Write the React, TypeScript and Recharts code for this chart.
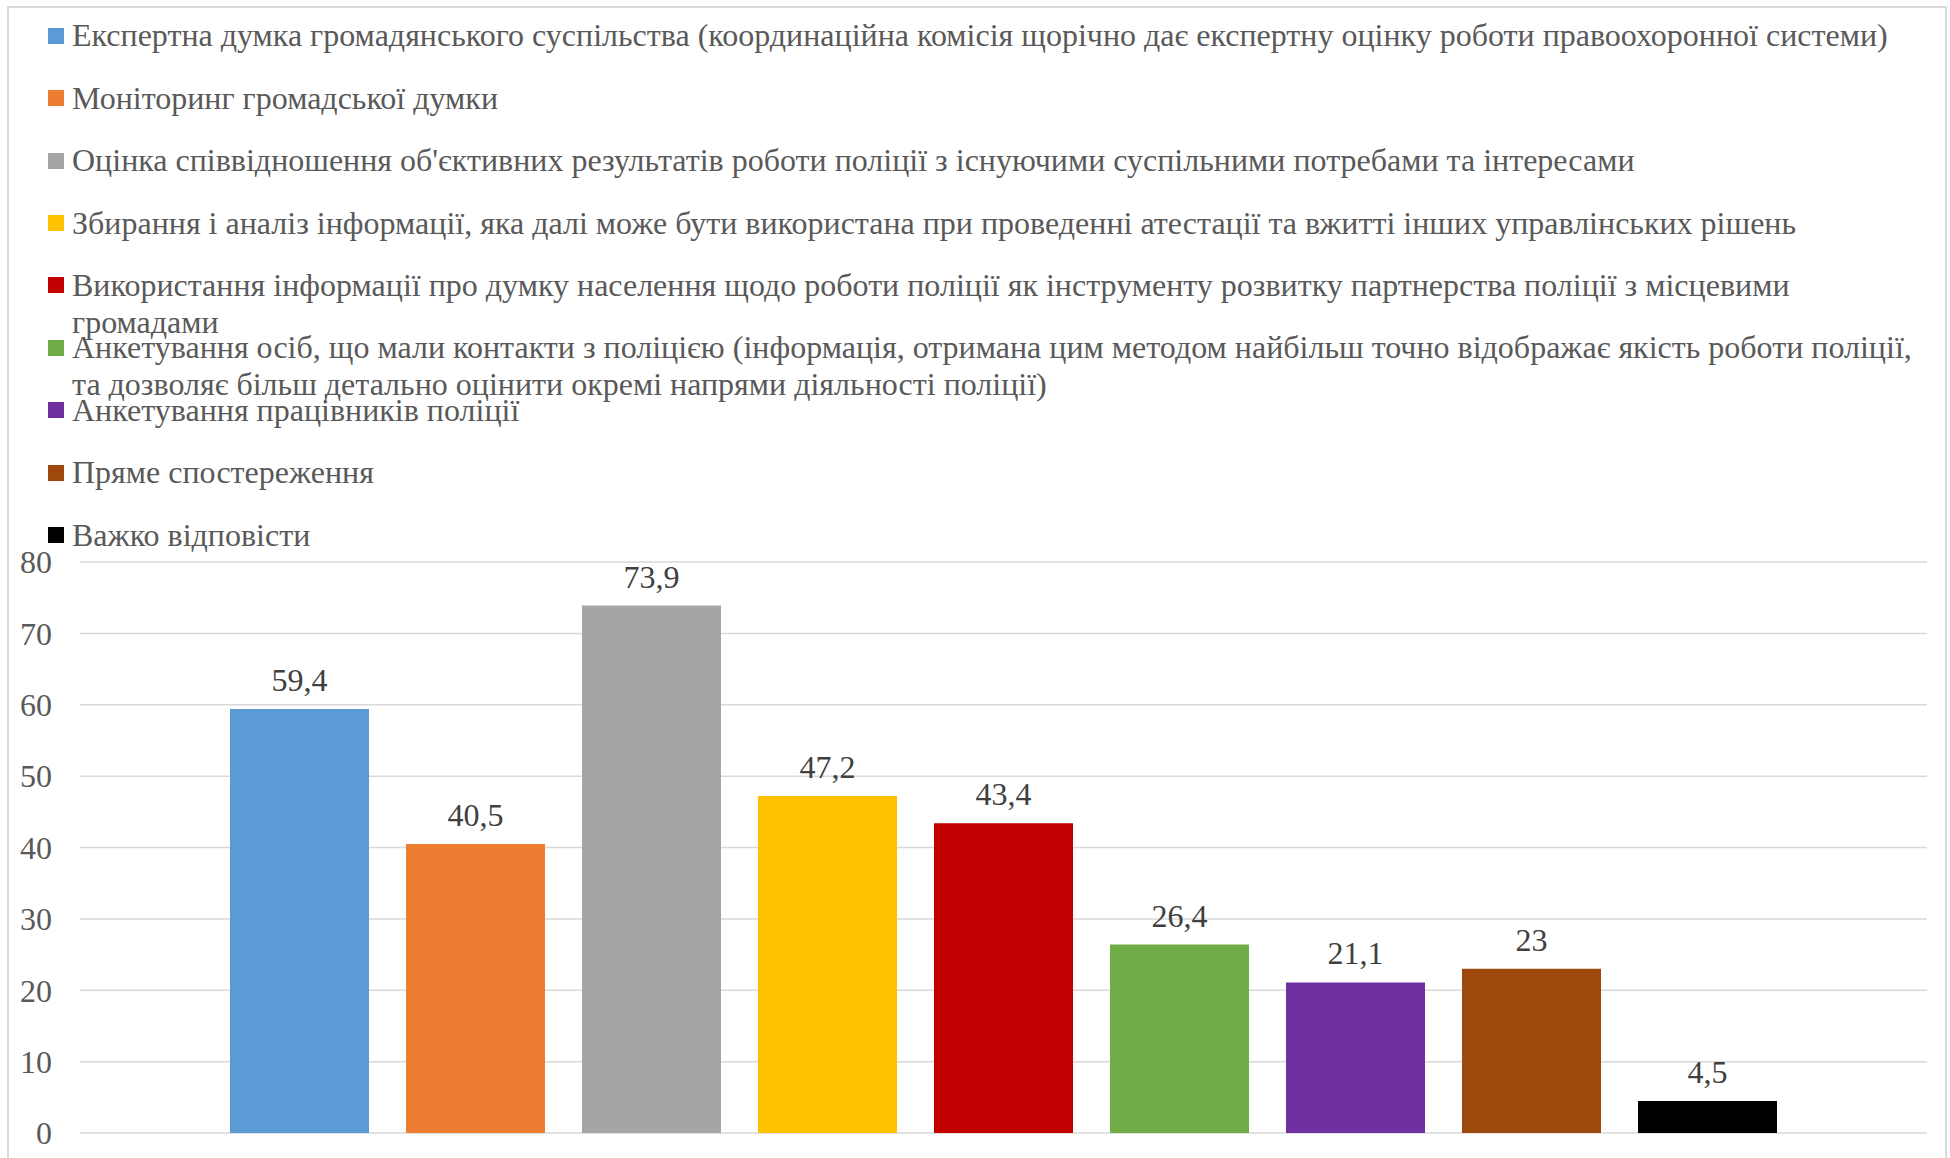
import React from 'react';
import { BarChart, Bar, XAxis, YAxis, CartesianGrid, Legend, LabelList } from 'recharts';

const categories = ['Методи оцінки'];

const seriesNames = [
  'Експертна думка громадянського суспільства (координаційна комісія щорічно дає експертну оцінку роботи правоохоронної системи)',
  'Моніторинг громадської думки',
  "Оцінка співвідношення об'єктивних результатів роботи поліції з існуючими суспільними потребами та інтересами",
  'Збирання і аналіз інформації, яка далі може бути використана при проведенні атестації та вжитті інших управлінських рішень',
  'Використання інформації про думку населення щодо роботи поліції як інструменту розвитку партнерства поліції з місцевими громадами',
  'Анкетування осіб, що мали контакти з поліцією (інформація, отримана цим методом найбільш точно відображає якість роботи поліції, та дозволяє більш детально оцінити окремі напрями діяльності поліції)',
  'Анкетування працівників поліції',
  'Пряме спостереження',
  'Важко відповісти',
];

const seriesValues = [59.4, 40.5, 73.9, 47.2, 43.4, 26.4, 21.1, 23, 4.5];

const seriesColors = ['#5B9BD5', '#ED7D31', '#A5A5A5', '#FFC000', '#C00000', '#70AD47', '#7030A0', '#9E480E', '#000000'];

const yTicks = [0, 10, 20, 30, 40, 50, 60, 70, 80];

const FONT = '"Liberation Serif", "Times New Roman", serif';

const data = categories.map((c) => {
  const row: Record<string, any> = { name: c };
  seriesValues.forEach((v, i) => {
    row['s' + i] = v;
  });
  return row;
});

const fmt = (v: any) => String(v).replace('.', ',');

const LegendContent = (props: any) => {
  const payload: any[] = props.payload || [];
  const rowStep = 62.4;
  const lastCenter = 535;
  const lh = 37;
  return (
    <div style={{ position: 'relative', width: 1950, height: 562 }}>
      {seriesNames.map((n, i) => {
        const p = payload.find((e) => e.value === n);
        const color = (p && p.color) || seriesColors[i];
        const center = lastCenter - (seriesNames.length - 1 - i) * rowStep;
        return (
          <div key={n}>
            <div
              style={{
                position: 'absolute',
                left: 48,
                top: center - 8,
                width: 16,
                height: 16,
                background: color,
              }}
            />
            <div
              style={{
                position: 'absolute',
                left: 72,
                top: center - lh / 2,
                width: 1855,
                fontFamily: FONT,
                fontSize: 32,
                lineHeight: lh + 'px',
                color: '#595959',
                whiteSpace: 'normal',
              }}
            >
              {n}
            </div>
          </div>
        );
      })}
    </div>
  );
};

export default function App() {
  return (
    <div style={{ position: 'absolute', left: 0, top: 0, width: 1950, height: 1158, background: '#fff', overflow: 'hidden' }}>
      <div
        style={{
          position: 'absolute',
          left: 7,
          top: 6,
          width: 1936,
          height: 1200,
          border: '2px solid #d9d9d9',
        }}
      />
      <div style={{ position: 'absolute', left: 0, top: 0 }}>
        <BarChart
          width={1950}
          height={1158}
          data={data}
          margin={{ top: 0, right: 23, bottom: 25, left: 0 }}
          barSize={139}
          barGap={37}
        >
          <CartesianGrid vertical={false} stroke="#d9d9d9" strokeWidth={1.5} />
          <XAxis dataKey="name" hide />
          <YAxis
            width={80}
            domain={[0, 80]}
            ticks={yTicks}
            interval={0}
            axisLine={false}
            tickLine={false}
            tickSize={0}
            tickMargin={28}
            tick={{ fill: '#595959', fontSize: 32, fontFamily: FONT }}
          />
          <Legend
            layout="horizontal"
            verticalAlign="top"
            align="left"
            wrapperStyle={{ top: 0, left: 0, width: 1950, height: 562 }}
            content={<LegendContent />}
          />
          {seriesNames.map((n, i) => (
            <Bar key={n} dataKey={'s' + i} name={n} fill={seriesColors[i]} isAnimationActive={false}>
              <LabelList
                dataKey={'s' + i}
                position="top"
                offset={18}
                formatter={fmt}
                fill="#404040"
                fontSize={32}
                fontFamily={FONT}
              />
            </Bar>
          ))}
        </BarChart>
      </div>
    </div>
  );
}
